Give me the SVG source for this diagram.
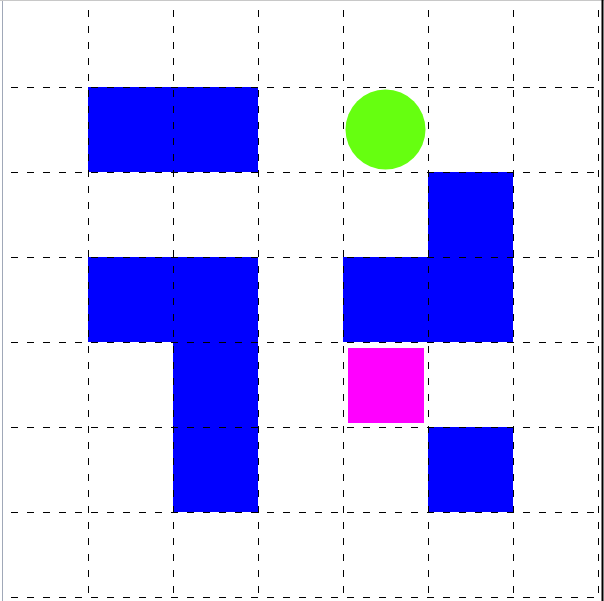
<svg xmlns="http://www.w3.org/2000/svg" width="604" height="601" viewBox="0 0 604 601">
<style>
.blk{fill:#0000ff}
.grid line{stroke:#000;stroke-width:1;stroke-dasharray:7,9}
</style>
<rect x="0" y="0" width="604" height="601" fill="#fff"/>
<g id="blocks">
<rect class="blk" x="88" y="87" width="170" height="85"/>
<rect class="blk" x="428" y="172" width="85" height="85"/>
<rect class="blk" x="88" y="257" width="170" height="85"/>
<rect class="blk" x="343" y="257" width="170" height="85"/>
<rect class="blk" x="173" y="342" width="85" height="170"/>
<rect class="blk" x="428" y="427" width="85" height="85"/>
</g>
<g id="goal"><circle cx="385.5" cy="129.5" r="40" fill="#66ff10"/></g>
<g id="agent"><rect x="348" y="348" width="76" height="75" fill="#ff00ff"/></g>
<g class="grid" id="grid">
<line x1="11" y1="87.5" x2="600" y2="87.5"/>
<line x1="11" y1="172.5" x2="600" y2="172.5"/>
<line x1="11" y1="257.5" x2="600" y2="257.5"/>
<line x1="11" y1="342.5" x2="600" y2="342.5"/>
<line x1="11" y1="427.5" x2="600" y2="427.5"/>
<line x1="11" y1="512.5" x2="600" y2="512.5"/>
<line x1="11" y1="597.5" x2="600" y2="597.5"/>
<line x1="88.5" y1="10" x2="88.5" y2="597"/>
<line x1="173.5" y1="10" x2="173.5" y2="597"/>
<line x1="258.5" y1="10" x2="258.5" y2="597"/>
<line x1="343.5" y1="10" x2="343.5" y2="597"/>
<line x1="428.5" y1="10" x2="428.5" y2="597"/>
<line x1="513.5" y1="10" x2="513.5" y2="597"/>
<line x1="598.5" y1="10" x2="598.5" y2="597"/>
</g>
<g id="frame">
<line x1="2.5" y1="0" x2="2.5" y2="601" stroke="#a0a8b8" stroke-width="1"/>
<line x1="0" y1="0.5" x2="604" y2="0.5" stroke="#c8c8c8" stroke-width="1"/>
<line x1="602.5" y1="0" x2="602.5" y2="601" stroke="#000" stroke-width="2"/>
</g>
</svg>
